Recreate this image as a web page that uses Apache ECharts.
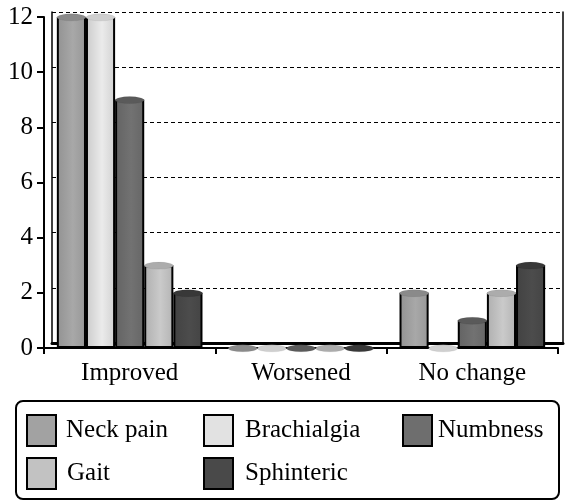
<!DOCTYPE html>
<html>
<head>
<meta charset="utf-8">
<script src="https://cdn.jsdelivr.net/npm/echarts@6/dist/echarts.min.js"></script>
<style>
  html, body { margin: 0; padding: 0; background: #fff; }
  #main { width: 566px; height: 501px; }
</style>
</head>
<body>
<div id="main"></div>
<script>
// data
var categories = ['Improved', 'Worsened', 'No change'];
var seriesNames = ['Neck pain', 'Brachialgia', 'Numbness', 'Gait', 'Sphinteric'];
var neckPain = [12, 0, 2];
var brachialgia = [12, 0, 0];
var numbness = [9, 0, 1];
var gait = [3, 0, 2];
var sphinteric = [2, 0, 3];
var yTicks = [0, 2, 4, 6, 8, 10, 12];

var values = [neckPain, brachialgia, numbness, gait, sphinteric];
var colors = ['#a2a2a2', '#e2e2e2', '#6e6e6e', '#c2c2c2', '#494949'];
var capColors = ['#8a8a8a', '#cfcfcf', '#5a5a5a', '#acacac', '#383838'];

var fontFam = 'Liberation Serif';

function shade(hex, f) {
  var n = parseInt(hex.slice(1), 16);
  var r = (n >> 16) & 255, g = (n >> 8) & 255, b = n & 255;
  function c(v) { return Math.max(0, Math.min(255, Math.round(v * f))); }
  return 'rgb(' + c(r) + ',' + c(g) + ',' + c(b) + ')';
}

// horizontal gradient gives the bars a rounded look
function cylinder(hex) {
  return new echarts.graphic.LinearGradient(0, 0, 1, 0, [
    { offset: 0, color: shade(hex, 0.9) },
    { offset: 0.55, color: shade(hex, 1.04) },
    { offset: 1, color: shade(hex, 0.93) }
  ]);
}

var myChart = echarts.init(document.getElementById('main'));

var series = [];
seriesNames.forEach(function (name, i) {
  series.push({
    name: name,
    type: 'bar',
    xAxisIndex: 0,
    yAxisIndex: 0,
    data: values[i],
    barGap: 0,
    barCategoryGap: '15%',
    itemStyle: { color: cylinder(colors[i]), borderColor: '#000', borderWidth: 2 },
    z: 3
  });
});
// elliptical caps on top of each bar
seriesNames.forEach(function (name, i) {
  series.push({
    name: name,
    type: 'pictorialBar',
    xAxisIndex: 0,
    yAxisIndex: 0,
    data: values[i],
    barGap: 0,
    barCategoryGap: '15%',
    symbol: 'circle',
    symbolSize: ['100%', 7],
    symbolPosition: 'end',
    symbolOffset: [0, '-50%'],
    itemStyle: { color: capColors[i], borderColor: '#000', borderWidth: 1.5 },
    z: 4
  });
});

var legends = [];
var legendPos = [
  [26, 414, 5], [203, 414, 7], [402, 414, 1],
  [26, 457, 6], [203, 457, 7]
];
seriesNames.forEach(function (name, i) {
  legends.push({
    data: [{ name: name, itemStyle: { color: colors[i], borderColor: '#000', borderWidth: 2 } }],
    left: legendPos[i][0],
    top: legendPos[i][1],
    icon: 'rect',
    itemWidth: 29,
    itemHeight: 31,
    itemGap: 0,
    padding: 0,
    selectedMode: false,
    textStyle: { fontFamily: fontFam, fontSize: 25, color: '#000', padding: [0, 0, 0, legendPos[i][2]] }
  });
});

var option = {
  animation: false,
  backgroundColor: '#fff',
  textStyle: { fontFamily: fontFam },
  graphic: [
    {
      type: 'rect',
      shape: { x: 16, y: 401, width: 543, height: 98, r: 7 },
      style: { fill: 'none', stroke: '#000', lineWidth: 2 }
    }
  ],
  legend: legends,
  grid: [
    { left: 44, right: 8, top: 17, bottom: 153 },
    { left: 52, right: 3, top: 12, bottom: 158 }
  ],
  xAxis: [
    {
      type: 'category',
      gridIndex: 0,
      data: categories,
      axisLine: { lineStyle: { color: '#000', width: 2 } },
      axisTick: { show: true, length: 6, interval: 0, lineStyle: { color: '#000', width: 2 } },
      axisLabel: { color: '#000', fontSize: 25, fontFamily: fontFam, margin: 13 }
    },
    {
      type: 'category',
      gridIndex: 1,
      data: categories,
      axisLine: { lineStyle: { color: '#000', width: 1.5 } },
      axisTick: { show: false },
      axisLabel: { show: false }
    },
    {
      type: 'category',
      gridIndex: 1,
      position: 'top',
      data: categories,
      axisLine: { lineStyle: { color: '#000', width: 3 } },
      axisTick: { show: false },
      axisLabel: { show: false }
    }
  ],
  yAxis: [
    {
      type: 'value',
      gridIndex: 0,
      min: 0,
      max: 12,
      interval: 2,
      axisLine: { show: true, lineStyle: { color: '#000', width: 2 } },
      axisTick: { show: true, length: 7, lineStyle: { color: '#000', width: 2 } },
      axisLabel: {
        color: '#000', fontSize: 25, fontFamily: fontFam, margin: 11,
        formatter: function (v) { return yTicks.indexOf(v) >= 0 ? String(v) : ''; }
      },
      splitLine: { show: false }
    },
    {
      type: 'value',
      gridIndex: 1,
      min: 0,
      max: 12,
      interval: 2,
      axisLine: { show: true, lineStyle: { color: '#000', width: 1.5 } },
      axisTick: { show: false },
      axisLabel: { show: false },
      splitLine: { show: true, lineStyle: { color: '#000', width: 1, type: [4, 3] } }
    },
    {
      type: 'value',
      gridIndex: 1,
      position: 'right',
      min: 0,
      max: 12,
      interval: 2,
      axisLine: { show: true, lineStyle: { color: '#000', width: 1.5 } },
      axisTick: { show: false },
      axisLabel: { show: false },
      splitLine: { show: false }
    }
  ],
  series: series
};

myChart.setOption(option);
</script>
</body>
</html>
